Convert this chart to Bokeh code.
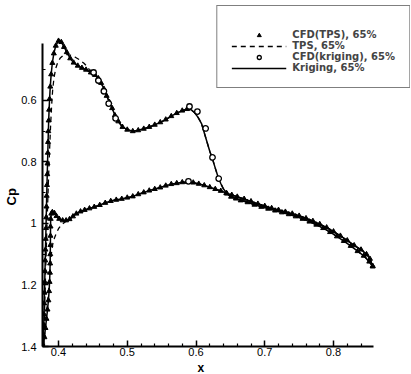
from bokeh.plotting import figure
from bokeh.models import (Range1d, FixedTicker, Legend, LegendItem, CustomJSTickFormatter, Title)
from bokeh.embed import file_html
from bokeh.resources import INLINE

# ---------------- data ----------------
x_ticks = [0.4, 0.5, 0.6, 0.7, 0.8]
x_minor = [0.38, 0.42, 0.44, 0.46, 0.48, 0.52, 0.54, 0.56, 0.58, 0.62, 0.64, 0.66, 0.68,
           0.72, 0.74, 0.76, 0.78, 0.82, 0.84]
y_ticks = [0.6, 0.8, 1.0, 1.2, 1.4]
y_minor = [0.5, 0.7, 0.9, 1.1, 1.3]

# Kriging, 65% (upper surface, leading edge -> trailing edge)
upper_x = [0.3780, 0.3783, 0.3786, 0.3789, 0.3792, 0.3796, 0.3800, 0.3803, 0.3807, 0.3810,
           0.3814, 0.3818, 0.3821, 0.3825, 0.3828, 0.3832, 0.3836, 0.3840, 0.3844, 0.3848,
           0.3852, 0.3857, 0.3863, 0.3870, 0.3880, 0.3893, 0.3910, 0.3932, 0.3960, 0.4000,
           0.4040, 0.4080, 0.4120, 0.4170, 0.4220, 0.4280, 0.4340, 0.4400, 0.4470, 0.4530,
           0.4580, 0.4620, 0.4660, 0.4700, 0.4740, 0.4780, 0.4820, 0.4870, 0.4930, 0.5000,
           0.5080, 0.5160, 0.5240, 0.5320, 0.5400, 0.5480, 0.5560, 0.5640, 0.5720, 0.5800,
           0.5870, 0.5930, 0.5980, 0.6030, 0.6080, 0.6120, 0.6160, 0.6200, 0.6240, 0.6280,
           0.6320, 0.6360, 0.6400, 0.6450, 0.6510, 0.6580, 0.6650, 0.6750, 0.6850, 0.6950,
           0.7050, 0.7150, 0.7250, 0.7350, 0.7450, 0.7550, 0.7650, 0.7750, 0.7850, 0.7950,
           0.8050, 0.8150, 0.8250, 0.8350, 0.8440, 0.8520, 0.8570]
upper_cp = [1.400, 1.365, 1.330, 1.295, 1.260, 1.225, 1.190, 1.155, 1.120, 1.085,
            1.050, 1.015, 0.980, 0.945, 0.910, 0.875, 0.840, 0.805, 0.770, 0.735,
            0.700, 0.665, 0.630, 0.595, 0.555, 0.515, 0.478, 0.447, 0.422, 0.406,
            0.410, 0.426, 0.443, 0.463, 0.477, 0.487, 0.494, 0.500, 0.509, 0.517,
            0.528, 0.543, 0.562, 0.585, 0.605, 0.625, 0.648, 0.668, 0.686, 0.695,
            0.700, 0.697, 0.692, 0.686, 0.679, 0.671, 0.662, 0.651, 0.641, 0.633,
            0.628, 0.630, 0.640, 0.655, 0.675, 0.705, 0.735, 0.765, 0.790, 0.820,
            0.848, 0.870, 0.888, 0.903, 0.913, 0.919, 0.925, 0.931, 0.939, 0.946,
            0.952, 0.958, 0.964, 0.970, 0.977, 0.985, 0.994, 1.004, 1.015, 1.028,
            1.042, 1.057, 1.073, 1.090, 1.105, 1.124, 1.140]

# Kriging, 65% (lower surface)
lower_x = [0.3780, 0.3795, 0.3810, 0.3825, 0.3840, 0.3853, 0.3863, 0.3870, 0.3875, 0.3878,
           0.3880, 0.3882, 0.3883, 0.3884, 0.3886, 0.3895, 0.3910, 0.3940, 0.3970, 0.4010,
           0.4060, 0.4110, 0.4160, 0.4210, 0.4260, 0.4320, 0.4380, 0.4450, 0.4520, 0.4600,
           0.4680, 0.4760, 0.4840, 0.4920, 0.5000, 0.5080, 0.5160, 0.5240, 0.5320, 0.5400,
           0.5480, 0.5560, 0.5640, 0.5720, 0.5800, 0.5880, 0.5960, 0.6040, 0.6120, 0.6200,
           0.6280, 0.6360, 0.6440, 0.6520, 0.6600, 0.6700, 0.6800, 0.6900, 0.7000, 0.7100,
           0.7200, 0.7300, 0.7400, 0.7500, 0.7600, 0.7700, 0.7800, 0.7900, 0.8000, 0.8100,
           0.8200, 0.8300, 0.8400, 0.8480, 0.8530, 0.8570]
lower_cp = [1.400, 1.370, 1.340, 1.310, 1.280, 1.250, 1.220, 1.190, 1.160, 1.130,
            1.100, 1.070, 1.040, 1.010, 0.985, 0.968, 0.963, 0.966, 0.976, 0.985,
            0.990, 0.990, 0.986, 0.977, 0.968, 0.961, 0.956, 0.951, 0.946, 0.940,
            0.933, 0.927, 0.923, 0.920, 0.916, 0.912, 0.905, 0.899, 0.893, 0.888,
            0.883, 0.877, 0.872, 0.869, 0.866, 0.865, 0.867, 0.871, 0.876, 0.882,
            0.888, 0.894, 0.901, 0.907, 0.913, 0.920, 0.928, 0.936, 0.943, 0.950,
            0.956, 0.962, 0.968, 0.975, 0.983, 0.992, 1.002, 1.013, 1.026, 1.040,
            1.055, 1.071, 1.085, 1.100, 1.115, 1.138]

# TPS, 65% : differs from kriging near the leading edge only
tps_upper_le_x = [0.3780, 0.3795, 0.3810, 0.3825, 0.3840, 0.3855, 0.3870, 0.3885, 0.3900, 0.3915,
                  0.3935, 0.3960, 0.3990, 0.4025, 0.4070, 0.4130, 0.4190, 0.4250, 0.4310, 0.4370,
                  0.4430]
tps_upper_le_cp = [1.400, 1.300, 1.180, 1.060, 0.950, 0.850, 0.760, 0.680, 0.615, 0.565,
                   0.525, 0.495, 0.475, 0.462, 0.453, 0.450, 0.454, 0.460, 0.468, 0.479,
                   0.493]
tps_lower_le_x = [0.3780, 0.3810, 0.3840, 0.3865, 0.3885, 0.3900, 0.3920, 0.3945, 0.3975, 0.4005,
                  0.4045, 0.4095, 0.4150]
tps_lower_le_cp = [1.400, 1.330, 1.260, 1.195, 1.130, 1.090, 1.062, 1.045, 1.028, 1.015,
                   1.004, 0.995, 0.989]

# CFD(kriging), 65% : open circles visible in the reference
cfd_krig_x = [0.451, 0.458, 0.466, 0.473, 0.483, 0.5905, 0.602, 0.614, 0.624, 0.633, 0.589]
cfd_krig_cp = [0.509, 0.535, 0.570, 0.610, 0.658, 0.6195, 0.636, 0.691, 0.785, 0.854, 0.863]

# ---------------- derived series ----------------
tps_upper = list(zip(tps_upper_le_x, tps_upper_le_cp)) + [(a, b) for a, b in zip(upper_x, upper_cp) if a >= 0.447]
tps_lower = list(zip(tps_lower_le_x, tps_lower_le_cp)) + [(a, b) for a, b in zip(lower_x, lower_cp) if a >= 0.421]
cfd_tps = [(a, b) for a, b in zip(upper_x, upper_cp) if not (0.589 < a < 0.642)] + list(zip(lower_x, lower_cp))

# ---------------- figure ----------------
p = figure(width=411, height=374, output_backend="svg", toolbar_location=None,
           x_range=Range1d(0.3767, 0.9120), y_range=Range1d(1.4, 0.2911),
           min_border_left=42, min_border_right=1, min_border_top=5, min_border_bottom=28)
p.outline_line_color = None
p.grid.visible = False
p.background_fill_color = "white"

kl = p.line(upper_x, upper_cp, line_color="black", line_width=1.5)
p.line(lower_x, lower_cp, line_color="black", line_width=1.5)
tl = p.line([a for a, b in tps_upper], [b for a, b in tps_upper], line_color="black", line_width=1.3, line_dash="5 4")
p.line([a for a, b in tps_lower], [b for a, b in tps_lower], line_color="black", line_width=1.3, line_dash="5 4")
ct = p.scatter([a for a, b in cfd_tps], [b for a, b in cfd_tps], marker="triangle", size=5,
               fill_color="black", line_color="black", line_width=1)
ck = p.scatter(cfd_krig_x, cfd_krig_cp, marker="circle", size=5.5, fill_color="white",
               line_color="black", line_width=1.3)

xa = p.xaxis[0]
ya = p.yaxis[0]
for ax in (xa, ya):
    ax.axis_line_width = 2
    ax.axis_line_color = "black"
    ax.major_tick_in = 6
    ax.major_tick_out = 0
    ax.minor_tick_in = 3
    ax.minor_tick_out = 0
    ax.major_tick_line_width = 1.5
    ax.minor_tick_line_width = 1.2
    ax.major_label_text_font = "Liberation Sans"
    ax.major_label_text_font_size = "11px"
    ax.major_label_text_color = "black"

xa.ticker = FixedTicker(ticks=x_ticks, minor_ticks=x_minor)
xa.bounds = (0.3767, 0.858)
xa.major_label_standoff = 1

ya.ticker = FixedTicker(ticks=y_ticks, minor_ticks=y_minor)
ya.bounds = (0.415, 1.4)
ya.formatter = CustomJSTickFormatter(code="return String(Math.round(tick*10)/10)")
ya.major_label_standoff = 6

# axis titles
p.add_layout(Title(text="x", align="left", offset=155, standoff=0,
                   text_font="Liberation Sans", text_font_style="bold", text_font_size="12px",
                   text_color="black"), "below")
p.add_layout(Title(text="Cp", align="left", offset=141, standoff=0,
                   text_font="Liberation Sans", text_font_style="bold", text_font_size="13px",
                   text_color="black"), "left")

legend = Legend(items=[
    LegendItem(label="CFD(TPS), 65%", renderers=[ct]),
    LegendItem(label="TPS, 65%", renderers=[tl]),
    LegendItem(label="CFD(kriging), 65%", renderers=[ck]),
    LegendItem(label="Kriging, 65%", renderers=[kl]),
], location="top_right", margin=0, padding=14, spacing=0,
    title=" ", title_text_font_size="1px", title_standoff=8,
    glyph_width=55, glyph_height=10, label_height=10, label_standoff=6,
    label_text_font="DejaVu Sans", label_text_font_style="bold", label_text_font_size="10px",
    border_line_color="black", border_line_width=1.5,
    background_fill_color="white", background_fill_alpha=1.0)
p.add_layout(legend)

open("out.html", "w").write(file_html(p, INLINE))
